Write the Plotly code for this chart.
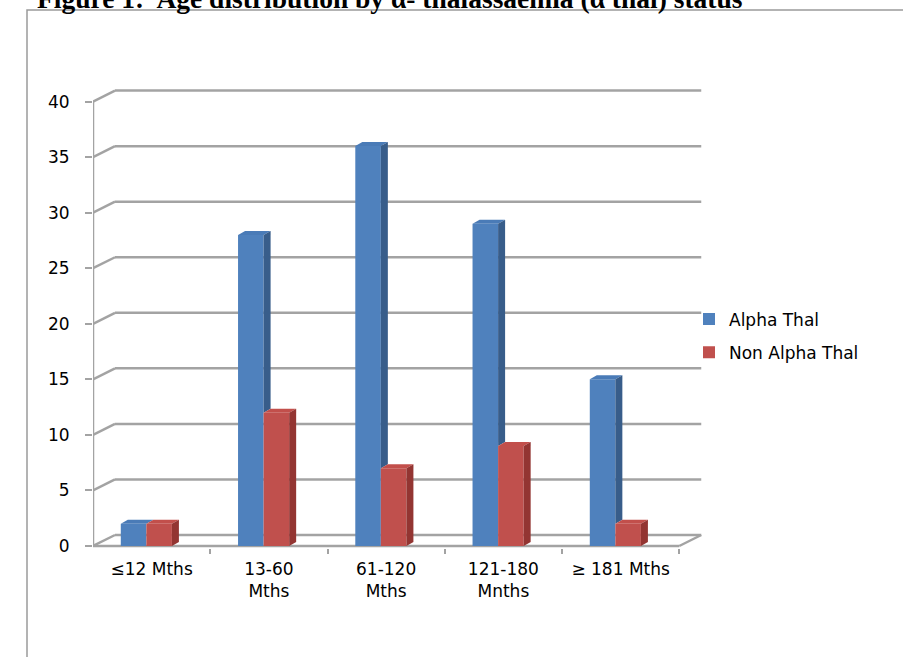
import plotly.graph_objects as go

# ---- data -------------------------------------------------------------
categories = ["≤12 Mths", "13-60<br>Mths", "61-120<br>Mths", "121-180<br>Mnths", "≥ 181 Mths"]
alpha_thal = [2, 28, 36, 29, 15]
non_alpha_thal = [2, 12, 7, 9, 2]
y_ticks = [0, 5, 10, 15, 20, 25, 30, 35, 40]
series_names = ["Alpha Thal", "Non Alpha Thal"]

# ---- geometry ---------------------------------------------------------
W, H = 903, 657
PL, PR, PT, PB = 93, 705, 85, 548          # plot area edges (px)
PX_PER_CAT = 117.25
PX_PER_UNIT = 11.11
X_LO = -0.5
X_HI = X_LO + (PR - PL) / PX_PER_CAT
Y_LO = -(PB - 546) / PX_PER_UNIT
Y_HI = (546 - PT) / PX_PER_UNIT

WALL_DX = 22 / PX_PER_CAT                   # oblique depth of the back wall
WALL_DY = 11 / PX_PER_UNIT
BAR_W = 0.218
OFF_A, OFF_N = -0.154, 0.064
BAR_DX = 7 / PX_PER_CAT                     # oblique depth of a column
BAR_DY = 4 / PX_PER_UNIT

BLUE, BLUE_SIDE, BLUE_TOP = "#4F81BD", "#385D8A", "#4A7BB7"
RED, RED_SIDE, RED_TOP = "#C0504D", "#933532", "#C24F4B"
GRID = "#A3A3A3"
FONT = "DejaVu Sans"


def px_x(p):
    return (p - PL) / (PR - PL)


def px_y(p):
    return (PB - p) / (PB - PT)


fig = go.Figure()

# front faces of the columns
fig.add_trace(go.Bar(x=[i + OFF_A for i in range(len(categories))], y=alpha_thal,
                     width=BAR_W, name=series_names[0], marker=dict(color=BLUE, line=dict(width=0)),
                     legendgroup="a"))
fig.add_trace(go.Bar(x=[i + OFF_N for i in range(len(categories))], y=non_alpha_thal,
                     width=BAR_W, name=series_names[1], marker=dict(color=RED, line=dict(width=0)),
                     legendgroup="n"))


def face(xs, ys, color):
    fig.add_trace(go.Scatter(x=xs + [xs[0]], y=ys + [ys[0]], mode="lines", fill="toself",
                             fillcolor=color, line=dict(width=0, color=color),
                             showlegend=False, hoverinfo="skip"))


# top and side faces, back to front
for i, (a, n) in enumerate(zip(alpha_thal, non_alpha_thal)):
    xa0 = i + OFF_A - BAR_W / 2
    xa1 = xa0 + BAR_W
    xn0 = i + OFF_N - BAR_W / 2
    xn1 = xn0 + BAR_W
    # Alpha Thal column
    face([xa0, xa0 + BAR_DX, xa1 + BAR_DX, xa1], [a, a + BAR_DY, a + BAR_DY, a], BLUE_TOP)
    if a > n:
        face([xa1, xa1 + BAR_DX, xa1 + BAR_DX, xa1], [n, n + BAR_DY, a + BAR_DY, a], BLUE_SIDE)
    # Non Alpha Thal column
    face([xn0, xn0 + BAR_DX, xn1 + BAR_DX, xn1], [n, n + BAR_DY, n + BAR_DY, n], RED_TOP)
    face([xn1, xn1 + BAR_DX, xn1 + BAR_DX, xn1], [0, BAR_DY, n + BAR_DY, n], RED_SIDE)

# back wall gridlines, left wall diagonals and floor
shapes = []
line = dict(color=GRID, width=2.5)
for v in y_ticks:
    shapes.append(dict(type="line", xref="x", yref="y", x0=X_LO, y0=v,
                       x1=X_LO + WALL_DX, y1=v + WALL_DY, line=line, layer="below"))
    shapes.append(dict(type="line", xref="x", yref="y", x0=X_LO + WALL_DX, y0=v + WALL_DY,
                       x1=len(categories) - 0.5 + WALL_DX, y1=v + WALL_DY, line=line, layer="below"))
shapes.append(dict(type="line", xref="x", yref="y", x0=X_LO, y0=0,
                   x1=len(categories) - 0.5, y1=0, line=line, layer="below"))
shapes.append(dict(type="line", xref="x", yref="y", x0=len(categories) - 0.5, y0=0,
                   x1=len(categories) - 0.5 + WALL_DX, y1=WALL_DY, line=line, layer="below"))
shapes.append(dict(type="line", xref="x", yref="y", x0=X_LO, y0=0, x1=X_LO, y1=y_ticks[-1],
                   line=line, layer="below"))
# page frame
shapes.append(dict(type="rect", xref="paper", yref="paper", x0=px_x(27), y0=px_y(680),
                   x1=px_x(930), y1=px_y(10), line=dict(color="#9A9A9A", width=1.5),
                   layer="below"))

fig.update_layout(
    width=W, height=H,
    margin=dict(l=PL, r=W - PR, t=PT, b=H - PB, pad=0),
    paper_bgcolor="white", plot_bgcolor="white",
    barmode="overlay",
    font=dict(family=FONT, size=17, color="#000000"),
    shapes=shapes,
    showlegend=True,
    legend=dict(x=px_x(689), xanchor="left", y=px_y(336), yanchor="middle",
                bgcolor="rgba(0,0,0,0)", font=dict(family=FONT, size=17, color="#000000"),
                tracegroupgap=8, itemclick=False),
    annotations=[dict(
        text="<b>Figure 1:\u00a0 Age distribution by α- thalassaemia (α thal) status</b>",
        xref="paper", yref="paper", x=px_x(35), y=px_y(16), xanchor="left", yanchor="bottom",
        showarrow=False, font=dict(family="Liberation Serif", size=27.5, color="#000000"))],
)

fig.update_xaxes(
    range=[X_LO, X_HI], tickmode="array", tickvals=list(range(len(categories))),
    ticktext=categories, ticks="", showgrid=False, zeroline=False, showline=False,
    ticklabelstandoff=9,
    minor=dict(tickmode="array", tickvals=[k + 0.5 for k in range(len(categories))],
               ticks="outside", ticklen=5, tickwidth=1.5, tickcolor=GRID, showgrid=False),
)
fig.update_yaxes(
    range=[Y_LO, Y_HI], tickmode="array", tickvals=y_ticks, ticks="outside", ticklen=7,
    tickwidth=2, tickcolor=GRID, showgrid=False, zeroline=False, showline=False,
    ticklabelstandoff=12,
)

fig.write_html("out.html")
